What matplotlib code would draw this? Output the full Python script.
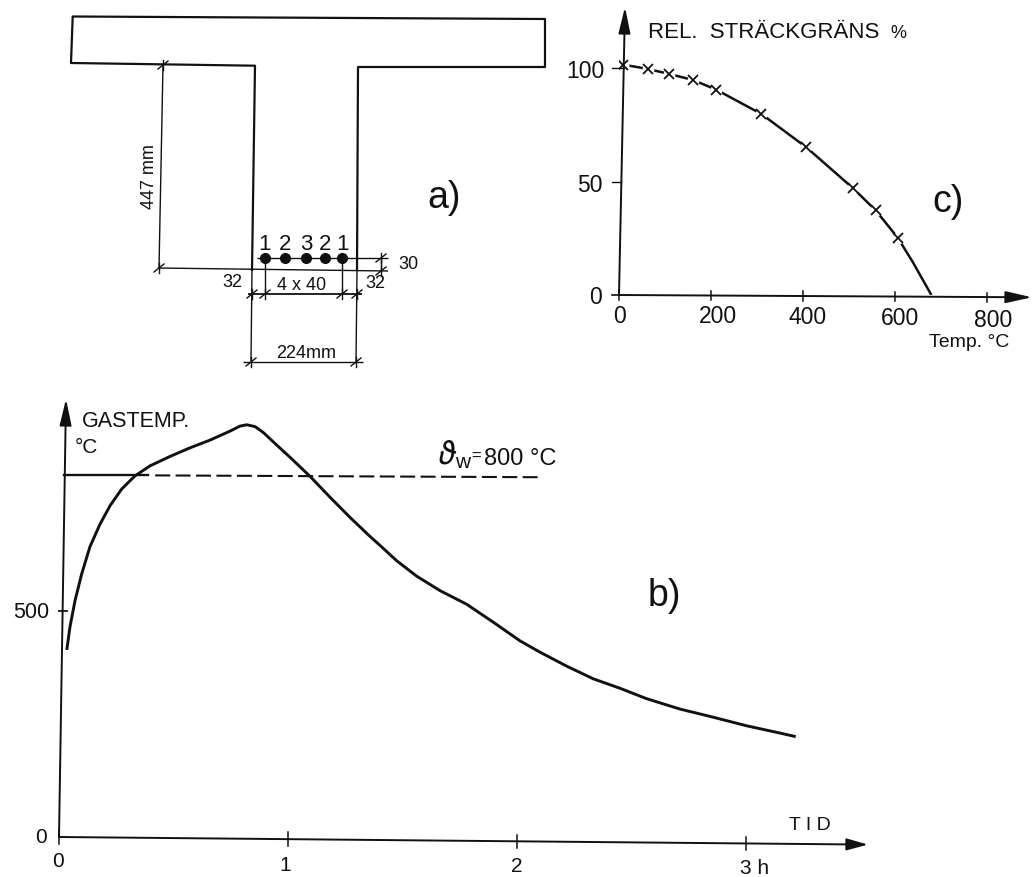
import matplotlib
matplotlib.use('Agg')
import matplotlib.pyplot as plt

plt.rcParams['font.family'] = ['Liberation Sans', 'DejaVu Sans']
plt.rcParams['mathtext.fontset'] = 'stixsans'

W, H = 1034, 878
INK = '#111111'

# b) gas temperature
tid_h = [0.034, 0.048, 0.070, 0.099, 0.135, 0.179, 0.223, 0.274, 0.332, 0.397, 0.485,
         0.572, 0.659, 0.747, 0.790, 0.820, 0.856, 0.892, 0.951, 1.009, 1.096, 1.183,
         1.271, 1.358, 1.402, 1.475, 1.562, 1.664, 1.780, 1.897, 2.013, 2.100, 2.217,
         2.333, 2.450, 2.566, 2.712, 2.857, 3.003, 3.148, 3.217]
gastemp = [414, 465, 523, 582, 642, 692, 733, 770, 799, 821, 842,
           861, 878, 898, 909, 912, 908, 895, 867, 840, 798, 752,
           707, 665, 645, 611, 577, 545, 515, 475, 434, 409, 378,
           350, 329, 306, 283, 265, 246, 230, 222]
vartheta_w = 800
tid_ticks = [0, 1, 2, 3]
gas_ticks = [500]

# c) relative yield strength
temp_c = [9, 62, 109, 161, 211, 309, 407, 509, 558, 606]
rel_strength = [101.5, 99.6, 97.4, 94.7, 90.5, 79.8, 65.1, 47.0, 37.3, 25.2]
tail_temp = [639, 679]
tail_strength = [14.4, 0]
temp_ticks = [0, 200, 400, 600, 800]
rel_ticks = [50, 100]

# a) bar positions along the section and their labels
bar_x = [265, 285, 306, 325, 342]
bar_labels = ['1', '2', '3', '2', '1']


def px_axes(left, bottom, right, top):
    ax = fig.add_axes([left / W, 1 - bottom / H, (right - left) / W, (bottom - top) / H])
    ax.patch.set_alpha(0)
    ax.set_xticks([])
    ax.set_yticks([])
    for s in ax.spines.values():
        s.set_visible(False)
    return ax


def axis_arrow(ax, x0, y0, x1, y1, head=1.6):
    ax.annotate('', xy=(x1, y1), xytext=(x0, y0), annotation_clip=False,
                arrowprops=dict(arrowstyle='-|>,head_width=0.36,head_length=%g' % head, color=INK,
                                lw=1.4, shrinkA=0, shrinkB=0))


def ln(xs, ys, lw=1.0, **kw):
    page.plot(xs, ys, color=INK, lw=lw, solid_capstyle='butt', **kw)


def slash(x, y):
    # dimension line tick
    page.plot([x - 5, x + 5], [y + 4, y - 4], color=INK, lw=1.0)
    page.plot([x, x], [y - 5, y + 5], color=INK, lw=1.0)


def txt(x, y, s, size=13, **kw):
    kw.setdefault('ha', 'center')
    kw.setdefault('va', 'center')
    page.text(x, y, s, fontsize=size, color=INK, **kw)


fig = plt.figure(figsize=(W / 100, H / 100), dpi=100, facecolor='white')

# page in pixel coordinates for the section drawing and all lettering
page = fig.add_axes([0, 0, 1, 1])
page.set_xlim(0, W)
page.set_ylim(H, 0)
page.axis('off')

# T section outline, the scan is slightly skewed
ln([252, 255, 71, 72.7, 545, 545, 358, 357], [272, 66.7, 64, 17.5, 20, 68, 68, 272], lw=1.6)

# dimension lines
ln([163, 159], [66, 269])
ln([158, 388], [269, 272])
ln([257, 388], [259, 259])
ln([381, 381], [259, 272])
ln([265, 265], [259, 295])
ln([342, 342], [259, 295])
ln([252, 251], [272, 363])
ln([357, 356], [272, 363])
ln([248, 362], [295, 295], lw=1.3)
ln([243, 363], [363, 363])
for px, py in [(163, 66), (159, 269), (381, 259), (381, 272), (252, 295), (265, 295),
               (342, 295), (357, 295), (251, 363), (356, 363)]:
    slash(px, py)
page.plot(bar_x, [259] * len(bar_x), 'o', color=INK, ms=7, ls='none')
for bx, lab in zip(bar_x, bar_labels):
    txt(bx, 245, lab, 16)

txt(150, 177, '447 mm', 13, rotation=90)
txt(408, 265, '30', 13)
txt(232, 283, '32', 13)
txt(375, 284, '32', 13)
txt(302, 286, '4 x 40', 13)
txt(306, 354, '224mm', 13)
txt(444, 198, 'a)', 27)

# b) panel, axes are tilted a little like the scan
B_XMAX = 809 / 229
B_YMAX = 438 * 500 / 226
ax_b = px_axes(59, 838, 868, 400)
ax_b.set_xlim(0, B_XMAX)
ax_b.set_ylim(0, B_YMAX)
ax_b.plot(tid_h, gastemp, color=INK, lw=2.1, solid_joinstyle='round', solid_capstyle='butt')
ax_b.plot([0.02, 0.389], [vartheta_w, vartheta_w], color=INK, lw=1.7)
ax_b.plot([0.42, 2.09], [vartheta_w, vartheta_w - 4], color=INK, lw=1.5, dashes=(7.2, 2.6))
for t in tid_ticks:
    y_mid = -t * 4.76
    ax_b.plot([t, t], [y_mid - 15, y_mid + 15], color=INK, lw=1.1, clip_on=False)
for g in gas_ticks:
    ax_b.plot([0, 0.035], [g, g], color=INK, lw=1.3, clip_on=False)
axis_arrow(ax_b, 0, 0, B_XMAX, -B_XMAX * 4.76, head=1.3)
axis_arrow(ax_b, 0, 0, 7 / 229, B_YMAX)
for tx, ty, lab in zip([58, 285, 517, 755], [862, 866, 867, 869], ['0', '1', '2', '3 h']):
    txt(tx, ty, lab, 15)
txt(41, 838, '0', 15)
txt(31, 613, '500', 15.5)
txt(810, 826, 'T I D', 14)
txt(82, 422, 'GASTEMP.', 15.5, ha='left')
txt(75, 448, '°C', 15, ha='left')
txt(447, 454, r'$\vartheta$', 25)
txt(463, 463, 'w', 15)
txt(476, 456, '=', 12)
txt(484, 459, '800 °C', 17, ha='left')
txt(664, 596, 'b)', 27)

# c) panel
C_XMAX = 413 / 0.46
C_YMAX = 288 / 2.27
ax_c = px_axes(619, 296, 1032, 8)
ax_c.set_xlim(0, C_XMAX)
ax_c.set_ylim(0, C_YMAX)
ax_c.plot(temp_c + tail_temp, rel_strength + tail_strength, color=INK, lw=1.8, solid_capstyle='butt')
ax_c.plot(temp_c, rel_strength, 'o', color='white', ms=7.5, ls='none')
ax_c.plot(temp_c, rel_strength, 'x', color=INK, ms=6.5, mew=1.3, ls='none')
for t in temp_ticks:
    y_mid = -t * 0.00113
    ax_c.plot([t, t], [y_mid - 2, y_mid + 2], color=INK, lw=1.1, clip_on=False)
for r in rel_ticks:
    ax_c.plot([-16, r * 0.1028], [r, r], color=INK, lw=1.0, clip_on=False)
ax_c.plot([-16, 0], [0, 0], color=INK, lw=1.2, clip_on=False)
axis_arrow(ax_c, 0, 0, C_XMAX, -C_XMAX * 0.00113)
axis_arrow(ax_c, 0, 0, C_YMAX * 0.1028, C_YMAX)
for tx, ty, t in zip([619, 718, 808, 900, 993], [317, 317, 318, 319, 321], temp_ticks):
    txt(tx, ty, str(t), 16.5)
txt(604, 72, '100', 16.5, ha='right')
txt(603, 185, '50', 16.5, ha='right')
txt(596, 298, '0', 16.5)
txt(648, 33, 'REL.  STRÄCKGRÄNS', 16, ha='left')
txt(890, 34, '%', 13, ha='left')
txt(969, 343, 'Temp. °C', 14)
txt(948, 202, 'c)', 27)

fig.savefig('out.png', dpi=100, facecolor='white')
